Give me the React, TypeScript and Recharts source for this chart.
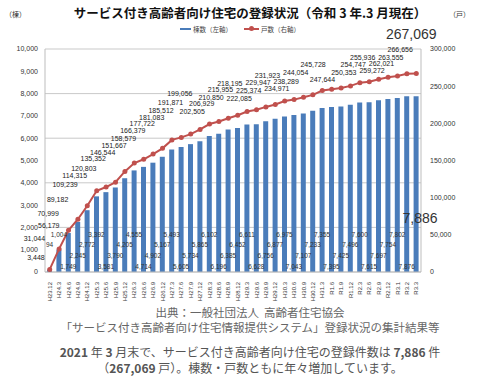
import React from 'react';
import { ComposedChart, Bar, Line, XAxis, YAxis, CartesianGrid, LabelList } from 'recharts';

const periods = [
  'H23.12', 'H24.3', 'H24.6', 'H24.9', 'H24.12', 'H25.3', 'H25.6', 'H25.9', 'H25.12', 'H26.3',
  'H26.6', 'H26.9', 'H26.12', 'H27.3', 'H27.6', 'H27.9', 'H27.12', 'H28.3', 'H28.6', 'H28.9',
  'H28.12', 'H29.3', 'H29.6', 'H29.9', 'H29.12', 'H30.3', 'H30.6', 'H30.9', 'H30.12', 'H31.3',
  'R1.6', 'R1.9', 'R1.12', 'R2.3', 'R2.6', 'R2.9', 'R2.12', 'R3.1', 'R3.2', 'R3.3',
];

// 棟数（左軸）
const buildings = [
  94, 1004, 1749, 2245, 2772, 3392, 3581, 3790, 4205, 4555,
  4714, 4902, 5167, 5493, 5605, 5734, 5865, 6102, 6196, 6385,
  6452, 6611, 6628, 6756, 6877, 6975, 7043, 7107, 7233, 7355,
  7395, 7425, 7496, 7600, 7615, 7697, 7754, 7802, 7876, 7886,
];

// 戸数（右軸）
const units = [
  3448, 31044, 56179, 70999, 89182, 109239, 114315, 120803, 135352, 146544,
  151667, 158579, 166379, 177722, 181083, 185512, 191871, 199056, 202505, 206929,
  210850, 215955, 218195, 222085, 225374, 229947, 231923, 234971, 238289, 244054,
  245728, 247644, 250353, 254747, 255936, 259272, 262021, 263555, 266656, 267069,
];

const leftTicks = [0, 1000, 2000, 3000, 4000, 5000, 6000, 7000, 8000, 9000, 10000];
const rightTicks = [0, 50000, 100000, 150000, 200000, 250000, 300000];

const data = periods.map((p, i) => ({ period: p, buildings: buildings[i], units: units[i] }));

const fmt = (v: number) => v.toLocaleString('en-US');
const numFont = '"Liberation Sans", Arial, sans-serif';
const jpFont = '"Noto Sans CJK JP", sans-serif';

// hand-placed look of the Excel labels on the steep start of the line
const earlyLift = [9, 8, 2, 3, 4, 4, 9, 11, 10, 8];
const earlyShift = [-5, -14, -9, -19, -19, -19, -19, -19, -19, -19];

const BarValue = (props: any) => {
  const { x, y, width, height, index, value } = props;
  const base = y + height;
  if (index === data.length - 1) {
    return (
      <text x={x + width / 2 + 4} y={base - 49} textAnchor="middle" fontSize={14} fill="#333" fontFamily={numFont}>
        {fmt(value)}
      </text>
    );
  }
  const lift = [14, 25, 35, 3][(index + 1) % 4];
  return (
    <text x={x + width / 2} y={base - lift} textAnchor="middle" fontSize={6.5} fill="#333" fontFamily={numFont}>
      {fmt(value)}
    </text>
  );
};

const LineValue = (props: any) => {
  const { x, y, index, value } = props;
  const n = index + 1;
  if (index === data.length - 1) {
    return (
      <text x={x - 5} y={y - 34} textAnchor="middle" fontSize={14} fill="#333" fontFamily={numFont}>
        {fmt(value)}
      </text>
    );
  }
  let dx: number;
  let lift: number;
  if (n <= earlyLift.length) {
    dx = earlyShift[index];
    lift = earlyLift[index];
  } else if (n <= 18) {
    dx = -17;
    lift = n <= 13 ? 11 + (n - 11) * 2 : 14 + (n - 14) * 3.5;
  } else if (n % 4 === 3 && n < 22) {
    dx = -14;
    lift = 7;
  } else {
    dx = n <= 30 ? -14 : n <= 32 ? -6 : 6;
    lift = [6, 11, 16, 22][n % 4] + Math.max(0, 24 - n) * 1.5;
  }
  return (
    <text x={x + dx} y={y - lift} textAnchor="end" fontSize={7} fill="#222" fontFamily={numFont}>
      {fmt(value)}
    </text>
  );
};

const PeriodTick = (props: any) => {
  const { x, y, payload } = props;
  return (
    <text
      x={x}
      y={y + 2}
      transform={`rotate(-90, ${x}, ${y + 2})`}
      textAnchor="end"
      dominantBaseline="central"
      fontSize={6}
      fill="#333"
      fontFamily={numFont}
    >
      {payload.value}
    </text>
  );
};

export default function App() {
  return (
    <div style={{ position: 'absolute', left: 0, top: 0, width: 500, height: 386, background: '#fff', fontFamily: jpFont }}>
      <div style={{ position: 'absolute', left: 0, top: 3, width: 500, textAlign: 'center', fontSize: 12.5, fontWeight: 700, color: '#111' }}>
        サービス付き高齢者向け住宅の登録状況（令和 3 年.3 月現在）
      </div>
      <div style={{ position: 'absolute', left: 5, top: 9, fontSize: 7, color: '#333' }}>（棟）</div>
      <div style={{ position: 'absolute', left: 449, top: 9, fontSize: 7, color: '#333' }}>（戸）</div>

      <div style={{ position: 'absolute', left: 180, top: 24, fontSize: 6.5, color: '#444', display: 'flex', alignItems: 'center' }}>
        <span style={{ display: 'inline-block', width: 11, height: 2, background: '#4A7CBA', marginRight: 2 }} />
        棟数（左軸）
        <span style={{ display: 'inline-block', width: 15, height: 2, background: '#C0504D', margin: '0 2px 0 12px', position: 'relative' }}>
          <span style={{ position: 'absolute', left: 5, top: -2, width: 5, height: 5, borderRadius: 3, background: '#C0504D' }} />
        </span>
        戸数（右軸）
      </div>

      <ComposedChart width={500} height={306} data={data} margin={{ top: 49, right: 0, bottom: 0, left: 0 }}>
        <CartesianGrid yAxisId="left" vertical={false} stroke="#c9c9c9" />
        <XAxis
          dataKey="period"
          interval={0}
          height={34}
          tick={<PeriodTick />}
          tickLine={false}
          axisLine={{ stroke: '#bdbdbd' }}
        />
        <YAxis
          yAxisId="left"
          width={45}
          domain={[0, 10000]}
          ticks={leftTicks}
          tickFormatter={fmt}
          tickLine={false}
          tickSize={0}
          tickMargin={7}
          axisLine={{ stroke: '#bdbdbd' }}
          tick={{ fontSize: 7, fill: '#333', fontFamily: numFont }}
        />
        <YAxis
          yAxisId="right"
          orientation="right"
          width={79}
          domain={[0, 300000]}
          ticks={rightTicks}
          tickFormatter={fmt}
          tickLine={false}
          tickSize={0}
          tickMargin={9}
          axisLine={{ stroke: '#bdbdbd' }}
          tick={{ fontSize: 7, fill: '#333', fontFamily: numFont }}
        />
        <Bar yAxisId="left" dataKey="buildings" fill="#4A7CBA" barSize={5} isAnimationActive={false}>
          <LabelList dataKey="buildings" content={<BarValue />} />
        </Bar>
        <Line
          yAxisId="right"
          dataKey="units"
          stroke="#C0504D"
          strokeWidth={2}
          dot={{ r: 2.5, fill: '#C0504D', stroke: 'none' }}
          isAnimationActive={false}
        >
          <LabelList dataKey="units" content={<LineValue />} />
        </Line>
      </ComposedChart>

      <div style={{ position: 'absolute', left: 0, top: 305, width: 500, textAlign: 'center', fontSize: 11.5, color: '#666', lineHeight: '15px' }}>
        <div>出典：一般社団法人&nbsp;&nbsp;高齢者住宅協会</div>
        <div>「サービス付き高齢者向け住宅情報提供システム」登録状況の集計結果等</div>
      </div>
      <div style={{ position: 'absolute', left: 0, top: 344, width: 500, textAlign: 'center', fontSize: 12, color: '#555', lineHeight: '16px' }}>
        <div>
          <b>2021</b> 年 <b>3</b> 月末で、サービス付き高齢者向け住宅の登録件数は <b>7,886</b> 件
        </div>
        <div>
          （<b>267,069</b> 戸）。棟数・戸数ともに年々増加しています。
        </div>
      </div>
    </div>
  );
}
